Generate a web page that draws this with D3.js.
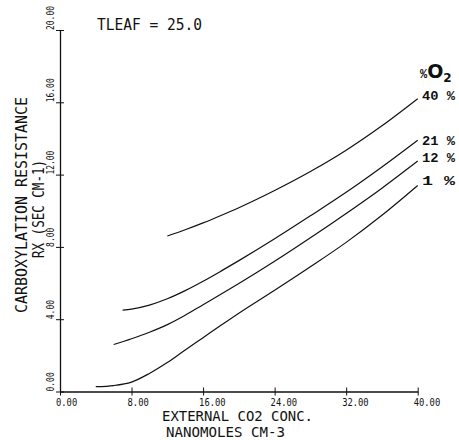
<!DOCTYPE html>
<html><head><meta charset="utf-8">
<script src="https://cdn.jsdelivr.net/npm/d3@7/dist/d3.min.js"></script>
<style>
body{margin:0;background:#fff;}
svg{display:block;}
</style></head>
<body>
<svg id="chart" width="459" height="440"></svg>
<script>
// ---- data ----
const xTicks = [0, 8, 16, 24, 32, 40];
const yTicks = [0, 4, 8, 12, 16, 20];
const seriesNames = ["40 %", "21 %", "12 %", "1  %"];
const x40 = [12, 14, 16, 18, 20, 24, 28, 32, 36, 40];
const y40 = [8.6, 8.95, 9.33, 9.74, 10.17, 11.12, 12.17, 13.35, 14.7, 16.2];
const x21 = [7, 8, 10, 12, 14, 16, 18, 20, 24, 28, 32, 36, 40];
const y21 = [4.5, 4.56, 4.78, 5.13, 5.58, 6.1, 6.66, 7.24, 8.45, 9.72, 11.02, 12.42, 13.9];
const x12 = [6, 8, 10, 12, 14, 16, 20, 24, 28, 32, 36, 40];
const y12 = [2.6, 2.92, 3.28, 3.7, 4.22, 4.8, 5.97, 7.2, 8.5, 9.85, 11.25, 12.75];
const x1 = [4, 6, 8, 10, 12, 14, 16, 18, 20, 24, 28, 32, 36, 40];
const y1 = [0.27, 0.33, 0.52, 1.0, 1.6, 2.3, 2.98, 3.66, 4.33, 5.6, 6.9, 8.25, 9.75, 11.4];
const seriesX = [x40, x21, x12, x1];
const seriesY = [y40, y21, y12, y1];
const labelY = [16.4, 13.9, 12.95, 11.7];

const svg = d3.select("#chart");
const x = d3.scaleLinear().domain([0, 40]).range([60, 417.7]);
const y = d3.scaleLinear().domain([0, 20]).range([391.5, 30]);
const fmt = d3.format(".2f");
const plotFont = "DejaVu Sans Mono, monospace";

// x axis
const gx = svg.append("g").attr("transform", `translate(0,${y(0)})`)
  .call(d3.axisBottom(x).tickValues(xTicks).tickSize(4).tickSizeOuter(0).tickFormat(""));
gx.select(".domain").attr("stroke", "#111").attr("stroke-width", 1.3);
gx.selectAll(".tick line").attr("y1", -4).attr("y2", 4).attr("stroke", "#111");
svg.append("g").selectAll("text").data(xTicks).join("text")
  .attr("x", d => x(d) - 4).attr("y", 405.5)
  .attr("font-family", plotFont).attr("font-size", 10.5)
  .attr("textLength", d => fmt(d).length * 5.3).attr("lengthAdjust", "spacingAndGlyphs")
  .attr("fill", "#111").text(d => fmt(d));

// y axis
const gy = svg.append("g").attr("transform", `translate(${x(0)},0)`)
  .call(d3.axisLeft(y).tickValues(yTicks).tickSize(4).tickSizeOuter(0).tickFormat(""));
gy.select(".domain").attr("stroke", "#111").attr("stroke-width", 1.3);
gy.selectAll(".tick line").attr("x1", -4).attr("x2", 4).attr("stroke", "#111");
svg.append("g").selectAll("text").data(yTicks).join("text")
  .attr("transform", d => `translate(54,${y(d)}) rotate(-90) scale(0.76,1)`)
  .attr("font-family", plotFont).attr("font-size", 10.5)
  .attr("fill", "#111").text(d => fmt(d));

// axis titles
svg.append("text").attr("x", 162).attr("y", 420.5)
  .attr("font-family", plotFont).attr("font-size", 14.5)
  .attr("textLength", 151).attr("lengthAdjust", "spacingAndGlyphs")
  .attr("fill", "#111").text("EXTERNAL CO2 CONC.");
svg.append("text").attr("x", 166).attr("y", 437)
  .attr("font-family", plotFont).attr("font-size", 14.5)
  .attr("textLength", 119).attr("lengthAdjust", "spacingAndGlyphs")
  .attr("fill", "#111").text("NANOMOLES CM-3");
svg.append("text").attr("transform", "translate(27,313) rotate(-90)")
  .attr("font-family", plotFont).attr("font-size", 15)
  .attr("textLength", 216).attr("lengthAdjust", "spacingAndGlyphs")
  .attr("fill", "#111").text("CARBOXYLATION RESISTANCE");
svg.append("text").attr("transform", "translate(44,258) rotate(-90)")
  .attr("font-family", plotFont).attr("font-size", 15)
  .attr("textLength", 98).attr("lengthAdjust", "spacingAndGlyphs")
  .attr("fill", "#111").text("RX (SEC CM-1)");

// title
svg.append("text").attr("x", 97).attr("y", 30)
  .attr("font-family", plotFont).attr("font-size", 16)
  .attr("textLength", 105).attr("lengthAdjust", "spacingAndGlyphs")
  .attr("fill", "#111").text("TLEAF = 25.0");

// curves
const line = d3.line().x(d => x(d[0])).y(d => y(d[1])).curve(d3.curveMonotoneX);
seriesX.forEach((xs, i) => {
  const pts = xs.map((v, j) => [v, seriesY[i][j]]);
  svg.append("path").datum(pts).attr("d", line)
    .attr("fill", "none").attr("stroke", "#111").attr("stroke-width", 1.2);
});

// curve labels
const labFont = "Liberation Mono, DejaVu Sans Mono, monospace";
svg.append("g").selectAll("text").data(seriesNames).join("text")
  .attr("x", 422).attr("y", (d, i) => y(labelY[i]) + 4.5)
  .attr("font-family", labFont).attr("font-weight", "bold").attr("font-size", 13)
  .attr("textLength", 33).attr("lengthAdjust", "spacingAndGlyphs")
  .attr("fill", "#111").text(d => d);
const o2 = svg.append("text").attr("x", 420).attr("y", 78)
  .attr("font-family", labFont).attr("font-weight", "bold").attr("fill", "#111");
o2.append("tspan").attr("font-size", 12).text("%");
o2.append("tspan").attr("font-size", 19).attr("font-family", "DejaVu Sans, sans-serif").text("O");
o2.append("tspan").attr("font-size", 12).attr("dy", 4).attr("font-family", "DejaVu Sans, sans-serif").text("2");
</script>
</body></html>
